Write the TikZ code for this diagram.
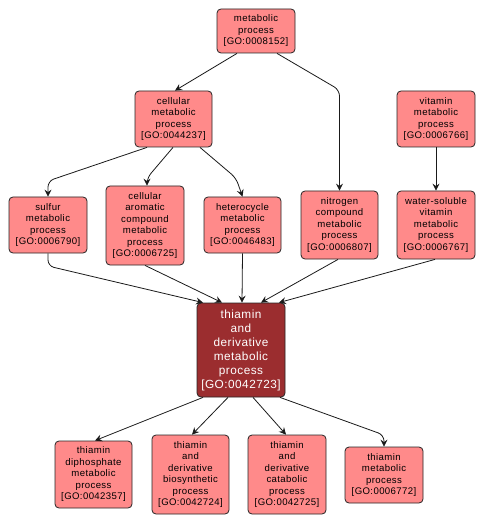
\documentclass[tikz,border=0pt]{standalone}
\usepackage{fontspec}
\setmainfont{Liberation Sans}[LetterSpace=4]
\usetikzlibrary{arrows.meta}
\definecolor{lightnode}{HTML}{FF8A8A}
\definecolor{darknode}{HTML}{9B2D2F}
\definecolor{edgecol}{HTML}{1A1A1A}
\tikzset{
  term/.style={draw=black!85, line width=0.8pt, fill=lightnode, rounded corners=4pt,
    align=center, font=\fontsize{9.6}{11.5}\selectfont, inner sep=0pt, text=black},
  focus/.style={draw=black!85, line width=0.8pt, fill=darknode, rounded corners=4pt,
    align=center, font=\fontsize{11.8}{14}\selectfont, inner sep=0pt, text=white},
  edge/.style={draw=edgecol, line width=0.8pt, -{Stealth[length=7pt,width=7pt,inset=2.5pt]}, rounded corners=6pt}
}
\begin{document}
\begin{tikzpicture}[x=1pt,y=-1pt]
\useasboundingbox (0,0) rectangle (486,526);
\fill[white] (0,0) rectangle (486,526);
% level 0
\node[term, minimum width=78pt, minimum height=44pt] (met) at (256,31) {metabolic\\process\\{[GO:0008152]}};
% level 1
\node[term, minimum width=77pt, minimum height=56pt] (cell) at (173.5,119) {cellular\\metabolic\\process\\{[GO:0044237]}};
\node[term, minimum width=78pt, minimum height=56pt] (vit) at (436,119) {vitamin\\metabolic\\process\\{[GO:0006766]}};
% level 2
\node[term, minimum width=78pt, minimum height=56pt] (sulf) at (48,225) {sulfur\\metabolic\\process\\{[GO:0006790]}};
\node[term, minimum width=78pt, minimum height=79pt] (arom) at (145,225.5) {cellular\\aromatic\\compound\\metabolic\\process\\{[GO:0006725]}};
\node[term, minimum width=77pt, minimum height=56pt] (het) at (242.5,225) {heterocycle\\metabolic\\process\\{[GO:0046483]}};
\node[term, minimum width=77pt, minimum height=68pt] (nit) at (339.5,225) {nitrogen\\compound\\metabolic\\process\\{[GO:0006807]}};
\node[term, minimum width=78pt, minimum height=68pt] (wsv) at (436,225) {water-soluble\\vitamin\\metabolic\\process\\{[GO:0006767]}};
% focus
\node[focus, minimum width=88pt, minimum height=94pt] (thi) at (241,350) {thiamin\\and\\derivative\\metabolic\\process\\{[GO:0042723]}};
% children
\node[term, minimum width=77pt, minimum height=67pt] (dip) at (93.5,474.5) {thiamin\\diphosphate\\metabolic\\process\\{[GO:0042357]}};
\node[term, minimum width=77pt, minimum height=79pt] (bio) at (190.5,474.5) {thiamin\\and\\derivative\\biosynthetic\\process\\{[GO:0042724]}};
\node[term, minimum width=78pt, minimum height=79pt] (cat) at (287,474.5) {thiamin\\and\\derivative\\catabolic\\process\\{[GO:0042725]}};
\node[term, minimum width=78pt, minimum height=56pt] (tmet) at (384,475) {thiamin\\metabolic\\process\\{[GO:0006772]}};
% edges
\draw[edge] ([xshift=-19pt]met.south) -- ([xshift=1.5pt]cell.north);
\draw[edge] ([xshift=21pt]met.south) -- (nit.north |- 0,90) -- (nit.north);
\draw[edge] ([xshift=-26.5pt]cell.south) -- (sulf.north |- 0,181) -- (sulf.north);
\draw[edge] ([xshift=-0.5pt]cell.south) -- ([xshift=2pt]arom.north |- 0,178) -- ([xshift=2pt]arom.north);
\draw[edge] ([xshift=26.5pt]cell.south) -- (236,178) -- (het.north);
\draw[edge] (vit.south) -- (wsv.north);
\draw[edge] (sulf.south) -- (sulf.south |- 0,266) -- ([xshift=-38pt]thi.north);
\draw[edge] (arom.south) -- ([xshift=-19pt]thi.north);
\draw[edge] (het.south) -- ([xshift=1pt]thi.north);
\draw[edge] ([xshift=-1.5pt]nit.south) -- ([xshift=20pt]thi.north);
\draw[edge] ([xshift=-1pt]wsv.south) -- ([xshift=38pt]thi.north);
\draw[edge] ([xshift=-38pt]thi.south) -- ([xshift=1.5pt]dip.north);
\draw[edge] ([xshift=-13pt]thi.south) -- ([xshift=1.5pt]bio.north);
\draw[edge] ([xshift=12pt]thi.south) -- ([xshift=-1pt]cat.north);
\draw[edge] ([xshift=39pt]thi.south) -- (tmet.north |- 0,435) -- (tmet.north);
\end{tikzpicture}
\end{document}
